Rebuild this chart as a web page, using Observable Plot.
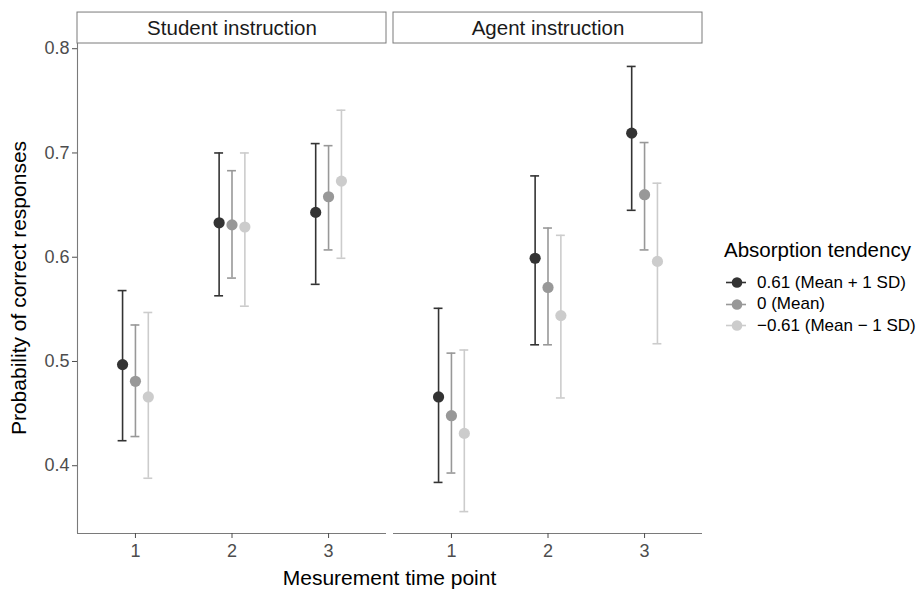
<!DOCTYPE html>
<html>
<head>
<meta charset="utf-8">
<script src="https://cdn.jsdelivr.net/npm/d3@7"></script>
<script src="https://cdn.jsdelivr.net/npm/@observablehq/plot@0.6"></script>
<style>
  html, body { margin: 0; padding: 0; background: #fff; }
  body { width: 917px; height: 592px; position: relative; overflow: hidden;
         font-family: "Liberation Sans", Arial, Helvetica, sans-serif; }
  #chart { position: absolute; left: 0; top: 0; }
  .title { position: absolute; color: #000; font-size: 21px; white-space: nowrap; }
  #xtitle { left: 389.5px; top: 566px; transform: translateX(-50%); }
  #ytitle { left: 18.5px; top: 288px; transform: translate(-50%, -50%) rotate(-90deg); }
  #legend { position: absolute; left: 724px; top: 238px; }
  #legend .ltitle { font-size: 20.5px; color: #000; margin-bottom: 10px; white-space: nowrap; }
  #legend .item { display: flex; align-items: center; height: 21.5px; font-size: 17px; color: #000; white-space: nowrap; }
  #legend svg { margin-right: 9px; }
</style>
</head>
<body>
<div id="chart"></div>
<div class="title" id="xtitle">Mesurement time point</div>
<div class="title" id="ytitle">Probability of correct responses</div>
<div id="legend"></div>
<script>
// ---- data ----
const instructions = ["Student instruction", "Agent instruction"];
const timePoints = [1, 2, 3];
const groups = ["0.61 (Mean + 1 SD)", "0 (Mean)", "\u22120.61 (Mean \u2212 1 SD)"];
const groupColors = ["#333333", "#989898", "#cccccc"];
const legendTitle = "Absorption tendency";
const yTicks = [0.4, 0.5, 0.6, 0.7, 0.8];

// rows = groups (high, mean, low), columns = time points 1..3
const studentEst = [[0.497, 0.633, 0.643], [0.481, 0.631, 0.658], [0.466, 0.629, 0.673]];
const studentLo  = [[0.424, 0.563, 0.574], [0.428, 0.580, 0.607], [0.388, 0.553, 0.599]];
const studentHi  = [[0.568, 0.700, 0.709], [0.535, 0.683, 0.707], [0.547, 0.700, 0.741]];
const agentEst   = [[0.466, 0.599, 0.719], [0.448, 0.571, 0.660], [0.431, 0.544, 0.596]];
const agentLo    = [[0.384, 0.516, 0.645], [0.393, 0.516, 0.607], [0.356, 0.465, 0.517]];
const agentHi    = [[0.551, 0.678, 0.783], [0.508, 0.628, 0.710], [0.511, 0.621, 0.671]];

// ---- build table ----
const dodgeWidth = 0.4;
const capHalf = 0.046;
const sets = [[studentEst, studentLo, studentHi], [agentEst, agentLo, agentHi]];
const rows = [];
instructions.forEach((ins, i) => {
  const [E, L, H] = sets[i];
  groups.forEach((g, gi) => {
    timePoints.forEach((t, ti) => {
      rows.push({
        instruction: ins, group: g, time: t,
        x: t + (gi - (groups.length - 1) / 2) * dodgeWidth / groups.length,
        est: E[gi][ti], lo: L[gi][ti], hi: H[gi][ti]
      });
    });
  });
});

const xDomain = [0.4, 3.6];
const yDomain = [0.335, 0.805];
const stripTop = 0.8347;
const stripMid = (yDomain[1] + stripTop) / 2;
const axisColor = "#7a7a7a";

const chart = Plot.plot({
  width: 710,
  height: 592,
  marginLeft: 76,
  marginRight: 7,
  marginTop: 43,
  marginBottom: 59,
  style: { fontFamily: '"Liberation Sans", Arial, Helvetica, sans-serif', background: "#fff" },
  fx: { domain: instructions, paddingInner: 0.022, paddingOuter: 0, axis: null, label: null },
  x: { domain: xDomain, label: null },
  y: { domain: yDomain, label: null },
  color: { domain: groups, range: groupColors },
  marks: [
    Plot.rect(instructions, { fx: d => d, x1: xDomain[0], x2: xDomain[1], y1: yDomain[1], y2: stripTop,
      fill: "white", stroke: axisColor, strokeWidth: 1 }),
    Plot.text(instructions, { fx: d => d, x: (xDomain[0] + xDomain[1]) / 2, y: stripMid, text: d => d,
      fontSize: 20.5, fill: "#1a1a1a" }),
    Plot.ruleY([yDomain[0]], { stroke: axisColor, strokeWidth: 1.1 }),
    Plot.ruleX([instructions[0]], { fx: d => d, x: xDomain[0], y1: yDomain[0], y2: yDomain[1],
      stroke: axisColor, strokeWidth: 1.1 }),
    Plot.axisY({ ticks: yTicks, tickFormat: d3.format(".1f"), tickSize: 5, tickPadding: 3,
      fontSize: 18, color: "#4d4d4d", label: null }),
    Plot.axisX({ ticks: timePoints, tickFormat: d => String(d), tickSize: 5, tickPadding: 6,
      fontSize: 18, color: "#4d4d4d", label: null }),
    Plot.ruleX(rows, { fx: "instruction", x: "x", y1: "lo", y2: "hi", stroke: "group", strokeWidth: 1.6 }),
    Plot.ruleY(rows, { fx: "instruction", y: "lo", x1: d => d.x - capHalf, x2: d => d.x + capHalf,
      stroke: "group", strokeWidth: 1.6 }),
    Plot.ruleY(rows, { fx: "instruction", y: "hi", x1: d => d.x - capHalf, x2: d => d.x + capHalf,
      stroke: "group", strokeWidth: 1.6 }),
    Plot.dot(rows, { fx: "instruction", x: "x", y: "est", r: 5.6, fill: "group", stroke: "none" })
  ]
});
document.getElementById("chart").appendChild(chart);

// ---- legend ----
const leg = document.getElementById("legend");
const t = document.createElement("div");
t.className = "ltitle";
t.textContent = legendTitle;
leg.appendChild(t);
groups.forEach((g, i) => {
  const item = document.createElement("div");
  item.className = "item";
  item.innerHTML = `<svg width="24" height="21"><line x1="2" x2="22" y1="10.5" y2="10.5" stroke="${groupColors[i]}" stroke-width="1.6"/><circle cx="13" cy="10.5" r="5.3" fill="${groupColors[i]}"/></svg><span></span>`;
  item.querySelector("span").textContent = g;
  leg.appendChild(item);
});
</script>
</body>
</html>
